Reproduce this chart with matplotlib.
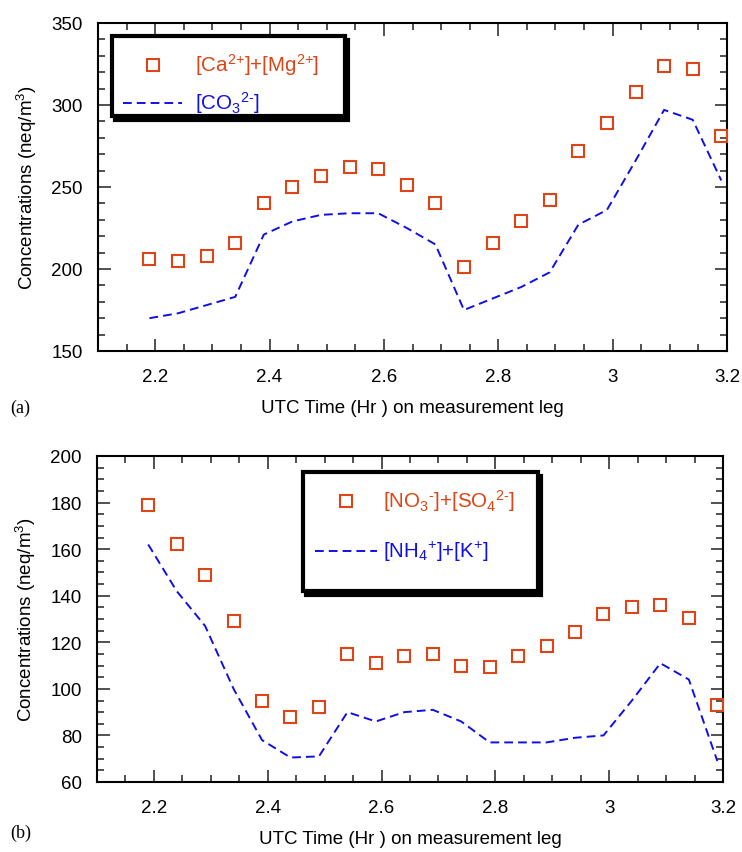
import numpy as np
import matplotlib
matplotlib.use("Agg")
import matplotlib.pyplot as plt
from matplotlib.path import Path
from matplotlib.patches import Rectangle
from matplotlib.lines import Line2D
from matplotlib.ticker import MultipleLocator, FixedLocator, FixedFormatter

plt.rcParams['font.family'] = ['Liberation Sans', 'DejaVu Sans']
plt.rcParams['mathtext.fontset'] = 'custom'
plt.rcParams['mathtext.rm'] = 'Liberation Sans'
plt.rcParams['mathtext.it'] = 'Liberation Sans:italic'
plt.rcParams['mathtext.default'] = 'regular'

# ---- data ----
time = [2.19, 2.24, 2.29, 2.34, 2.39, 2.44, 2.49, 2.54, 2.59, 2.64, 2.69,
        2.74, 2.79, 2.84, 2.89, 2.94, 2.99, 3.04, 3.09, 3.14, 3.19]
ca_mg = [206, 205, 208, 216, 240, 250, 257, 262, 261, 251, 240,
         201, 216, 229, 242, 272, 289, 308, 324, 322, 281]
co3 = [170, 173, 178, 183, 221, 229, 233, 234, 234, 225, 215,
       175, 182, 189, 198, 227, 236, 266, 297, 291, 254]
no3_so4 = [179, 162, 149, 129, 95, 88, 92, 115, 111, 114, 115,
           110, 109.5, 114, 118.5, 124.5, 132, 135, 136, 130.5, 93]
nh4_k = [162, 142, 127, 100, 78, 70.5, 71, 90, 86, 90, 91,
         86, 77, 77, 77, 79, 80, 95, 111, 104, 69]

xticks = [2.2, 2.4, 2.6, 2.8, 3.0, 3.2]
xticklabels = ['2.2', '2.4', '2.6', '2.8', '3', '3.2']
yticks_a = [150, 200, 250, 300, 350]
yticks_b = [60, 80, 100, 120, 140, 160, 180, 200]

label_a1 = r'[Ca$^{2{+}}$]+[Mg$^{2{+}}$]'
label_a2 = r'[CO$_3$$^{2\text{-}}$]'
label_b1 = r'[NO$_3$$^{\text{-}}$]+[SO$_4$$^{2\text{-}}$]'
label_b2 = r'[NH$_4$$^{{+}}$]+[K$^{{+}}$]'
ylabel = 'Concentrations (neq/m$^3$)'
xlabel = 'UTC Time (Hr ) on measurement leg'

ORANGE = '#DD4416'
BLUE = '#1010E6'

W, H = 742, 853

# custom marker: square with short overshooting strokes
e = 1.25
verts = [(-e, 1), (1, 1), (1, e), (1, -1), (e, -1), (-1, -1), (-1, -e), (-1, 1)]
codes = [Path.MOVETO, Path.LINETO] * 4
sq_marker = Path(verts, codes)

fig = plt.figure(figsize=(W / 100, H / 100), dpi=100)


def fx(px):
    return px / W


def fy(py):
    return 1 - py / H


ax1 = fig.add_axes([fx(98), fy(352), (727 - 98) / W, (352 - 24) / H])
ax2 = fig.add_axes([fx(97), fy(783), (723 - 97) / W, (783 - 457) / H])

for ax, mk, ln, yt, ylim, minor in [
        (ax1, ca_mg, co3, yticks_a, (150, 350), 10),
        (ax2, no3_so4, nh4_k, yticks_b, (60, 200), 5)]:
    ax.plot(time, ln, color=BLUE, lw=1.4, dashes=(4.5, 2.6), zorder=2)
    ax.plot(time, mk, ls='none', marker=sq_marker, markersize=10,
            markerfacecolor='none', markeredgecolor=ORANGE, mew=1.5, zorder=3)
    ax.set_xlim(2.1, 3.2)
    ax.set_ylim(*ylim)
    ax.xaxis.set_major_locator(FixedLocator(xticks))
    ax.xaxis.set_major_formatter(FixedFormatter(xticklabels))
    ax.xaxis.set_minor_locator(MultipleLocator(0.05))
    ax.yaxis.set_major_locator(FixedLocator(yt))
    ax.yaxis.set_minor_locator(MultipleLocator(minor))
    ax.tick_params(which='both', direction='in', top=True, right=True,
                   width=1.1, color='#222222', labelsize=13.5)
    ax.tick_params(which='major', length=9)
    ax.tick_params(which='minor', length=5)
    ax.tick_params(axis='x', pad=12)
    ax.tick_params(axis='y', pad=11)
    for s in ax.spines.values():
        s.set_linewidth(1.5)
    ax.set_xlabel(xlabel, fontsize=13.5, labelpad=10)
    ax.set_ylabel(ylabel, fontsize=13.5, labelpad=9)

fig.text(fx(10), fy(408), '(a)', family='Liberation Serif', fontsize=13, va='center')
fig.text(fx(10), fy(833), '(b)', family='Liberation Serif', fontsize=13, va='center')


def legend_box(l, t, r, b, rows):
    sh = Rectangle((fx(l + 3), fy(b + 4)), (r - l) / W, (b - t) / H,
                   transform=fig.transFigure, facecolor='black',
                   edgecolor='black', lw=3, zorder=10)
    bx = Rectangle((fx(l), fy(b)), (r - l) / W, (b - t) / H,
                   transform=fig.transFigure, facecolor='white',
                   edgecolor='black', lw=3, zorder=11)
    fig.add_artist(sh)
    fig.add_artist(bx)
    for kind, hx0, hx1, hy, tx, label, color in rows:
        if kind == 'marker':
            mx = (hx0 + hx1) / 2
            fig.add_artist(Line2D([fx(mx)], [fy(hy)], transform=fig.transFigure,
                                  ls='none', marker=sq_marker, markersize=10,
                                  markerfacecolor='none', markeredgecolor=color,
                                  mew=1.5, zorder=12))
        else:
            fig.add_artist(Line2D([fx(hx0), fx(hx1)], [fy(hy), fy(hy)],
                                  transform=fig.transFigure, color=color,
                                  lw=1.4, dashes=(4.5, 2.6), zorder=12))
        fig.text(fx(tx), fy(hy + 6), label, color=color, fontsize=14.8,
                 va='baseline', ha='left', zorder=13)


legend_box(112, 37, 345, 117, [
    ('marker', 123, 182, 66, 195, label_a1, ORANGE),
    ('line', 123, 182, 104, 195, label_a2, BLUE)])
legend_box(303, 473, 538, 592, [
    ('marker', 315, 377, 502, 383, label_b1, ORANGE),
    ('line', 315, 377, 552, 383, label_b2, BLUE)])

fig.savefig('out.png', dpi=100)
